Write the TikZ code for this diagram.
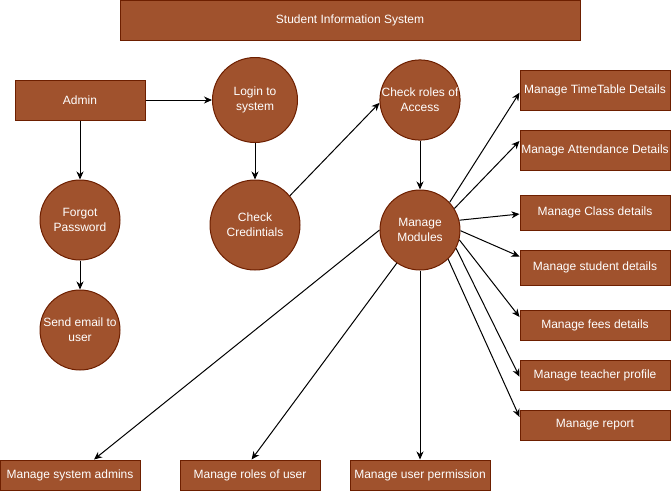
\documentclass[tikz,border=0pt]{standalone}
\usepackage{fontspec}
\setmainfont{Liberation Sans}
\usetikzlibrary{arrows.meta,calc}
\definecolor{boxfill}{HTML}{A0522D}
\definecolor{boxline}{HTML}{6D1F00}
\begin{document}
\begin{tikzpicture}[x=1pt,y=-1pt,
  base/.style={draw=boxline, fill=boxfill, text=white, line width=1pt,
    font=\fontsize{12}{15}\selectfont, align=center, inner sep=0pt},
  rbox/.style={base, rectangle},
  circ/.style={base, circle},
  arr/.style={draw=black, line width=1pt, -{Stealth[length=8pt,width=7pt,inset=2.5pt]}}]
\useasboundingbox (0,0) rectangle (671,491);
% nodes
\node[rbox, minimum width=460pt, minimum height=40pt] (title) at (350,20) {Student Information System};
\node[rbox, minimum width=130pt, minimum height=40pt] (admin) at (80,100) {Admin};
\node[circ, minimum size=85pt] (login) at (255,100) {Login to\\system};
\node[circ, minimum size=80pt] (forgot) at (80,220) {Forgot\\Password};
\node[circ, minimum size=80pt] (send) at (80,330) {Send email to\\user};
\node[circ, minimum size=90pt] (cc) at (255,225) {Check\\Credintials};
\node[circ, minimum size=80pt] (roles) at (420,100) {Check roles of\\Access};
\node[circ, minimum size=80pt] (mm) at (420,230) {Manage\\Modules};
\node[rbox, minimum width=150pt, minimum height=40pt] (tt) at (595,90) {Manage TimeTable Details};
\node[rbox, minimum width=150pt, minimum height=40pt] (att) at (595,150) {Manage Attendance Details};
\node[rbox, minimum width=150pt, minimum height=35pt] (cls) at (595,212.5) {Manage Class details};
\node[rbox, minimum width=150pt, minimum height=35pt] (stu) at (595,267.5) {Manage student details};
\node[rbox, minimum width=150pt, minimum height=30pt] (fees) at (595,325) {Manage fees details};
\node[rbox, minimum width=150pt, minimum height=30pt] (tch) at (595,375) {Manage teacher profile};
\node[rbox, minimum width=150pt, minimum height=30pt] (rep) at (595,425) {Manage report};
\node[rbox, minimum width=140pt, minimum height=30pt] (sysadm) at (70,475) {Manage system admins};
\node[rbox, minimum width=140pt, minimum height=30pt] (rolesu) at (250,475) {Manage roles of user};
\node[rbox, minimum width=140pt, minimum height=30pt] (perm) at (420,475) {Manage user permission};
% connectors
\draw[arr] (admin) -- (login);
\draw[arr] (admin) -- (forgot);
\draw[arr] (forgot) -- (send);
\draw[arr] (login) -- (cc);
\draw[arr] (cc.40) -- (roles.184);
\draw[arr] (roles) -- (mm);
\draw[arr] (mm.43) -- ($(tt.west)+(0,2.7)$);
\draw[arr] (mm.32) -- ($(att.west)+(0,-9)$);
\draw[arr] (mm.14) -- ($(cls.west)+(0,1.5)$);
\draw[arr] (mm.-1) -- ($(stu.west)+(0,-11)$);
\draw[arr] (mm.-14) -- ($(fees.west)+(0,-8)$);
\draw[arr] (mm.-27) -- ($(tch.west)+(0,1.7)$);
\draw[arr] (mm.-46) -- ($(rep.west)+(0,-8)$);
\draw[arr] (mm.west) -- ($(sysadm.north)+(24,0)$);
\draw[arr] (mm.235) -- ($(rolesu.north)+(1.6,0)$);
\draw[arr] (mm) -- (perm);
\end{tikzpicture}
\end{document}
